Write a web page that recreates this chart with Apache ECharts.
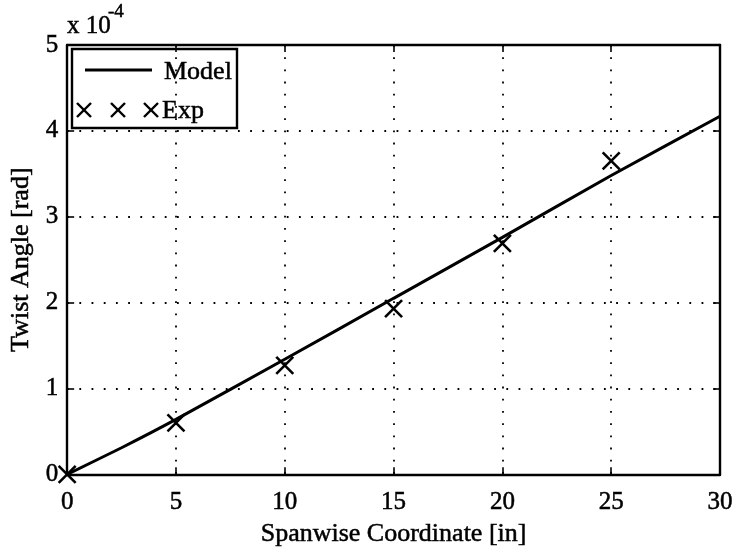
<!DOCTYPE html>
<html>
<head>
<meta charset="utf-8">
<script src="https://cdn.jsdelivr.net/npm/echarts@6/dist/echarts.min.js"></script>
<style>
  html, body { margin: 0; padding: 0; background: #fff; }
  #chart { width: 736px; height: 552px; }
</style>
</head>
<body>
<div id="chart"></div>
<script>
// Spanwise twist: model prediction vs. experimental points (radians)
const modelX = [0, 2.5, 5, 10, 15, 20, 25, 30];
const modelY = [0, 0.31e-4, 0.64e-4, 1.34e-4, 2.05e-4, 2.76e-4, 3.48e-4, 4.17e-4];

const expX = [0, 5, 10, 15, 20, 25];
const expY = [0, 0.60e-4, 1.27e-4, 1.93e-4, 2.69e-4, 3.65e-4];

const xTicks = [0, 5, 10, 15, 20, 25, 30];
const yTicks = [0, 1, 2, 3, 4, 5]; // in units of 1e-4

const FONT = '"Liberation Serif", "Times New Roman", serif';
const CROSS = 'path://M0,0L20,20M20,0L0,20';
const INK = '#000';
const HEAVY = { textBorderColor: INK, textBorderWidth: 0.5 };

const chart = echarts.init(document.getElementById('chart'), null, { renderer: 'canvas' });

const tickLabel = Object.assign({ fontFamily: FONT, fontSize: 25, color: INK }, HEAVY);
const titleText = Object.assign({ fontFamily: FONT, fontSize: 26, color: INK }, HEAVY);
const boxLine = { show: true, onZero: false, lineStyle: { color: INK, width: 2.4 } };
const innerTick = { show: true, inside: true, length: 7, lineStyle: { color: INK, width: 1.6 } };
const dotted = { show: true, lineStyle: { color: INK, width: 1.8, type: [1.8, 10.4] } };

// legend cross marker built from two strokes
function legendCross(cx, cy, h) {
  return [
    { type: 'line', shape: { x1: cx - h, y1: cy - h, x2: cx + h, y2: cy + h }, style: { stroke: INK, lineWidth: 2.4 } },
    { type: 'line', shape: { x1: cx + h, y1: cy - h, x2: cx - h, y2: cy + h }, style: { stroke: INK, lineWidth: 2.4 } }
  ];
}
function gText(x, y, text, size) {
  return { type: 'text', x: x, y: y,
    style: { text: text, font: size + 'px ' + FONT, fill: INK, stroke: INK, lineWidth: 0.5 } };
}

const option = {
  backgroundColor: '#fff',
  animation: false,
  grid: { left: 66, right: 16, top: 45, bottom: 68, containLabel: false },
  xAxis: [
    {
      type: 'value', position: 'bottom',
      min: xTicks[0], max: xTicks[xTicks.length - 1], interval: 5,
      axisLine: boxLine, axisTick: innerTick, splitLine: dotted,
      axisLabel: Object.assign({ margin: 16 }, tickLabel),
      name: 'Spanwise Coordinate [in]', nameLocation: 'middle', nameGap: 37,
      nameTextStyle: titleText
    },
    {
      type: 'value', position: 'top',
      min: xTicks[0], max: xTicks[xTicks.length - 1], interval: 5,
      axisLine: boxLine, axisTick: innerTick, splitLine: { show: false },
      axisLabel: { show: false }
    }
  ],
  yAxis: [
    {
      type: 'value', position: 'left',
      min: 0, max: 5e-4, interval: 1e-4,
      axisLine: boxLine, axisTick: innerTick, splitLine: dotted,
      axisLabel: Object.assign({
        margin: 9,
        formatter: v => String(yTicks[Math.round(v * 1e4)])
      }, tickLabel),
      name: 'Twist Angle [rad]', nameLocation: 'middle', nameGap: 25,
      nameTextStyle: titleText
    },
    {
      type: 'value', position: 'right',
      min: 0, max: 5e-4, interval: 1e-4,
      axisLine: boxLine, axisTick: innerTick, splitLine: { show: false },
      axisLabel: { show: false }
    }
  ],
  series: [
    {
      name: 'Model', type: 'line',
      data: modelX.map((x, i) => [x, modelY[i]]),
      showSymbol: false, smooth: 0.2,
      lineStyle: { color: INK, width: 3 },
      z: 3
    },
    {
      name: 'Exp', type: 'scatter',
      data: expX.map((x, i) => [x, expY[i]]),
      symbol: CROSS, symbolSize: 17,
      itemStyle: { color: 'transparent', borderColor: INK, borderWidth: 2.6, opacity: 1 },
      z: 4
    }
  ],
  graphic: [
    // exponent of the y scale
    gText(67, 14, 'x 10', 25),
    gText(108, 3, '-4', 19),
    // legend box
    {
      type: 'group', x: 72, y: 49, z: 100,
      children: [
        { type: 'rect', shape: { x: 0, y: 0, width: 165, height: 79 },
          style: { fill: '#fff', stroke: INK, lineWidth: 2.4 } },
        { type: 'line', shape: { x1: 13, y1: 21, x2: 80, y2: 21 },
          style: { stroke: INK, lineWidth: 3 } },
        gText(92, 10, 'Model', 26),
        ...legendCross(12, 61, 7),
        ...legendCross(46, 61, 7),
        ...legendCross(79, 61, 7),
        gText(90, 49, 'Exp', 26)
      ]
    }
  ]
};

chart.setOption(option);
</script>
</body>
</html>
